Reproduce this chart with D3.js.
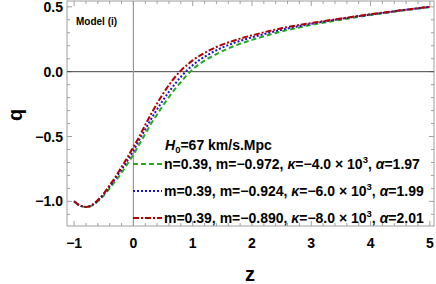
<!DOCTYPE html>
<html><head><meta charset="utf-8">
<script src="https://cdn.jsdelivr.net/npm/d3@7"></script>
<style>body{margin:0;background:#fff}svg{display:block;font-family:"Liberation Sans",Arial,sans-serif}</style>
</head><body><svg id="c" width="436" height="284"></svg>
<script>
const zVals = [-1,-0.9,-0.8,-0.7,-0.6,-0.5,-0.4,-0.3,-0.2,-0.1,0,0.1,0.2,0.3,0.4,0.5,0.6,0.7,0.8,0.9,1.0,1.2,1.4,1.6,1.8,2.0,2.5,3.0,3.5,4.0,4.5,5.0];
const qGreen = [-1.0,-1.033,-1.043,-1.033,-1.0,-0.955,-0.9,-0.84,-0.78,-0.71,-0.64,-0.56,-0.48,-0.40,-0.33,-0.26,-0.195,-0.135,-0.08,-0.028,0.018,0.085,0.135,0.18,0.215,0.245,0.31,0.36,0.401,0.437,0.469,0.498];
const qBlue  = [-1.0,-1.033,-1.043,-1.03,-0.995,-0.945,-0.885,-0.82,-0.755,-0.685,-0.61,-0.525,-0.445,-0.365,-0.29,-0.22,-0.155,-0.095,-0.04,0.008,0.05,0.115,0.165,0.205,0.238,0.265,0.323,0.369,0.407,0.44,0.471,0.50];
const qRed   = [-1.0,-1.033,-1.043,-1.028,-0.99,-0.94,-0.875,-0.81,-0.735,-0.66,-0.58,-0.50,-0.41,-0.325,-0.245,-0.17,-0.103,-0.043,0.008,0.05,0.087,0.145,0.19,0.225,0.255,0.28,0.335,0.375,0.41,0.443,0.473,0.50];
const xTicks = [-1,0,1,2,3,4,5];
const yTicks = [-1.0,-0.5,0.0,0.5];
const legendParams = [
  {n:"n=0.39, m=\u22120.972, ", k:"\u22124.0 \u00d7 10", a:"1.97"},
  {n:"m=0.39, m=\u22120.924, ", k:"\u22126.0 \u00d7 10", a:"1.99"},
  {n:"m=0.39, m=\u22120.890, ", k:"\u22128.0 \u00d7 10", a:"2.01"}
];
const series = [
  {q:qGreen, color:"#22aa22", dash:"5,3"},
  {q:qBlue, color:"#1515d0", dash:"2,2"},
  {q:qRed, color:"#b00000", dash:"6,2,2,2"}
];

const svg = d3.select("#c");
const L=67,R=434,T=1,B=226;
const x = d3.scaleLinear().domain([-1.12,5.07]).range([L,R]);
const y = d3.scaleLinear().domain([-1.19,0.545]).range([B,T]);

// frame
svg.append("rect").attr("x",L).attr("y",T).attr("width",R-L).attr("height",B-T)
  .attr("fill","none").attr("stroke","#a0a0a0").attr("stroke-width",1);

// ticks
const xMinor = d3.range(-1,5.001,0.2);
const yMinor = d3.range(-1.1,0.5001,0.1);
const tg = svg.append("g").attr("stroke","#a0a0a0").attr("stroke-width",1);
xMinor.forEach(v=>{
  const major = Math.abs(v-Math.round(v))<1e-6;
  const len = major?5:3;
  tg.append("line").attr("x1",x(v)).attr("x2",x(v)).attr("y1",B).attr("y2",B-len);
  tg.append("line").attr("x1",x(v)).attr("x2",x(v)).attr("y1",T).attr("y2",T+len);
});
yMinor.forEach(v=>{
  const major = Math.abs(v*2-Math.round(v*2))<1e-6;
  const len = major?5:3;
  tg.append("line").attr("y1",y(v)).attr("y2",y(v)).attr("x1",L).attr("x2",L+len);
  tg.append("line").attr("y1",y(v)).attr("y2",y(v)).attr("x1",R).attr("x2",R-len);
});

// axes lines
svg.append("line").attr("x1",L).attr("x2",R).attr("y1",y(0)).attr("y2",y(0)).attr("stroke","#444").attr("stroke-width",1);
svg.append("line").attr("x1",x(0)).attr("x2",x(0)).attr("y1",T).attr("y2",B).attr("stroke","#9a9a9a").attr("stroke-width",1.2);

// tick labels
svg.selectAll(".xt").data(xTicks).join("text").attr("x",d=>x(d)).attr("y",B+22)
  .attr("text-anchor","middle").attr("font-size",14).attr("font-weight","bold")
  .text(d=>d<0?"\u2212"+Math.abs(d):d);
svg.selectAll(".yt").data(yTicks).join("text").attr("x",L-4).attr("y",d=>y(d)+5)
  .attr("text-anchor","end").attr("font-size",14).attr("font-weight","bold")
  .text(d=>(d<0?"\u2212":"")+Math.abs(d).toFixed(1));

// axis titles
svg.append("text").attr("x",250).attr("y",281).attr("text-anchor","middle")
  .attr("font-size",20).attr("font-weight","bold").text("z");
svg.append("text").attr("transform","translate(22,115) rotate(-90)").attr("text-anchor","middle")
  .attr("font-size",20).attr("font-weight","bold").text("q");

// curves
const line = d3.line().x((d,i)=>x(zVals[i])).y(d=>y(d)).curve(d3.curveMonotoneX);
series.forEach(s=>{
  svg.append("path").attr("d",line(s.q)).attr("fill","none").attr("stroke",s.color)
    .attr("stroke-width",2).attr("stroke-dasharray",s.dash);
});

// model label
svg.append("text").attr("x",76).attr("y",25).attr("font-size",10).attr("font-weight","bold").text("Model (i)");

// legend
const lg = svg.append("g").attr("font-weight","bold").attr("font-size",14);
const h = lg.append("text").attr("x",165).attr("y",150);
h.append("tspan").attr("font-style","italic").text("H");
h.append("tspan").attr("font-size",9.5).attr("dy",3).text("0");
h.append("tspan").attr("dy",-3).text("=67 km/s.Mpc");
const rowsY = [164,191,218];
legendParams.forEach((p,i)=>{
  const s = series[i];
  lg.append("line").attr("x1",133).attr("x2",162).attr("y1",rowsY[i]).attr("y2",rowsY[i])
    .attr("stroke",s.color).attr("stroke-width",2).attr("stroke-dasharray",s.dash);
  const t = lg.append("text").attr("x",164).attr("y",rowsY[i]+5);
  t.append("tspan").text(p.n);
  t.append("tspan").attr("font-style","italic").text("\u03ba");
  t.append("tspan").text("="+p.k);
  t.append("tspan").attr("font-size",9.5).attr("dy",-6).text("3");
  t.append("tspan").attr("dy",6).text(", ");
  t.append("tspan").attr("font-style","italic").text("\u03b1");
  t.append("tspan").text("="+p.a);
});
</script></body></html>
